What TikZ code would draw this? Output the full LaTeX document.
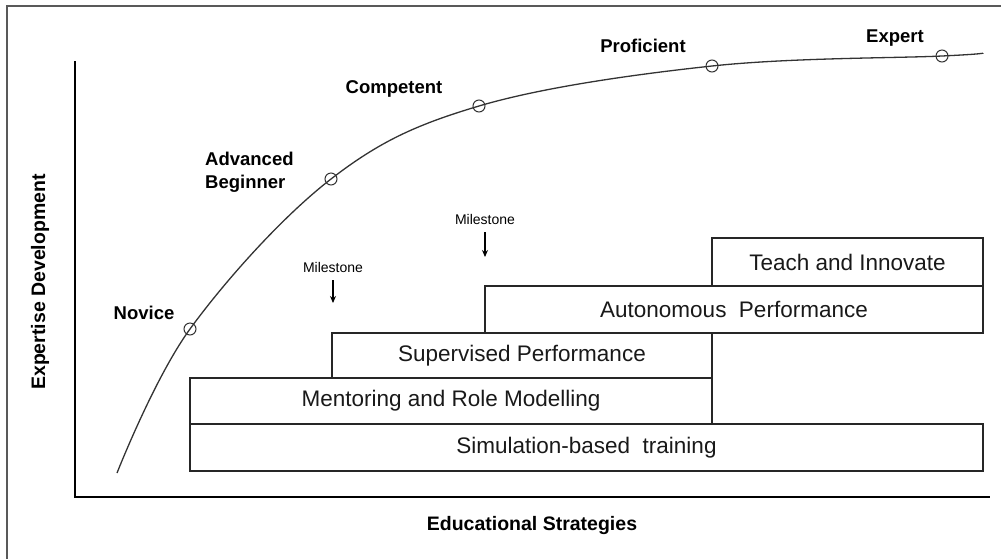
\documentclass[tikz,border=0pt]{standalone}
\usepackage{fontspec}
\setmainfont{Liberation Sans}
\usetikzlibrary{arrows.meta}
\begin{document}
\begin{tikzpicture}[x=1pt,y=-1pt,
  frameline/.style={draw=black!65,line width=1.6pt},
  axisline/.style={draw=black,line width=2pt},
  stagebox/.style={draw=black!85,line width=1.3pt,inner sep=0pt,
    font=\fontsize{22.5}{26}\selectfont,text=black!90},
  stagelabel/.style={font=\fontsize{18.5}{23}\selectfont\bfseries,inner sep=0pt},
  axislabel/.style={font=\fontsize{19.5}{22}\selectfont\bfseries,inner sep=0pt},
  mark dot/.style={circle,draw=black!80,line width=1pt,minimum size=12pt,inner sep=0pt},
  milestone/.style={font=\fontsize{14}{16}\selectfont,inner sep=0pt},
  milearrow/.style={draw=black,line width=1.3pt,-{Stealth[length=7pt,width=6pt]}},
  curveline/.style={draw=black!80,line width=1.3pt}]
\useasboundingbox (0,0) rectangle (1001,558);

% outer frame (left and top edges)
\draw[frameline] (7,560) -- (7,6) -- (1003,6);

% axes
\coordinate (ytop) at (75,61);
\coordinate (origin) at (75,497);
\coordinate (xend) at (990,497);
\draw[axisline] (ytop) -- (origin) -- (xend);
\node[axislabel,rotate=90] (ylab) at (40,282) {Expertise Development};
\node[axislabel] (xlab) at (532,525) {Educational Strategies};

% strategy bars
\node[stagebox,minimum width=793pt,minimum height=47pt] (sim) at (586.5,447.5) {Simulation-based\ \ training};
\node[stagebox,minimum width=522pt,minimum height=46pt] (mentor) at (451,401) {Mentoring and Role Modelling};
\node[stagebox,minimum width=380pt,minimum height=45pt] (superv) at (522,355.5) {Supervised Performance};
\node[stagebox,minimum width=498pt,minimum height=47pt] (auton) at (734,309.5) {Autonomous\ \ Performance};
\node[stagebox,minimum width=271pt,minimum height=48pt] (teach) at (847.5,262) {Teach and Innovate};

% milestones
\node[milestone] (ms1) at (333,267) {Milestone};
\coordinate (ms1a) at (333,280);
\coordinate (ms1b) at (333,303);
\draw[milearrow] (ms1a) -- (ms1b);
\node[milestone] (ms2) at (485,219) {Milestone};
\coordinate (ms2a) at (485,232);
\coordinate (ms2b) at (485,257);
\draw[milearrow] (ms2a) -- (ms2b);

% expertise curve and stage marks
\coordinate (cstart) at (117,473);
\coordinate (cend) at (983,53);
\node[mark dot] (novice) at (190,329) {};
\node[mark dot] (advbeg) at (331,179) {};
\node[mark dot] (compet) at (479,106) {};
\node[mark dot] (profic) at (712,66) {};
\node[mark dot] (expert) at (942,56) {};
\draw[curveline] plot[smooth,tension=0.6] coordinates {(cstart) (novice.center) (advbeg.center) (compet.center) (profic.center) (expert.center) (cend)};

% stage labels
\node[stagelabel] (lnov) at (144,313) {Novice};
\node[stagelabel,align=left,anchor=west] (ladv) at (205,172.5) {Advanced\\Beginner};
\node[stagelabel] (lcomp) at (394,89) {Competent};
\node[stagelabel] (lprof) at (643,46) {Proficient};
\node[stagelabel] (lexp) at (895,38) {Expert};
\end{tikzpicture}
\end{document}
